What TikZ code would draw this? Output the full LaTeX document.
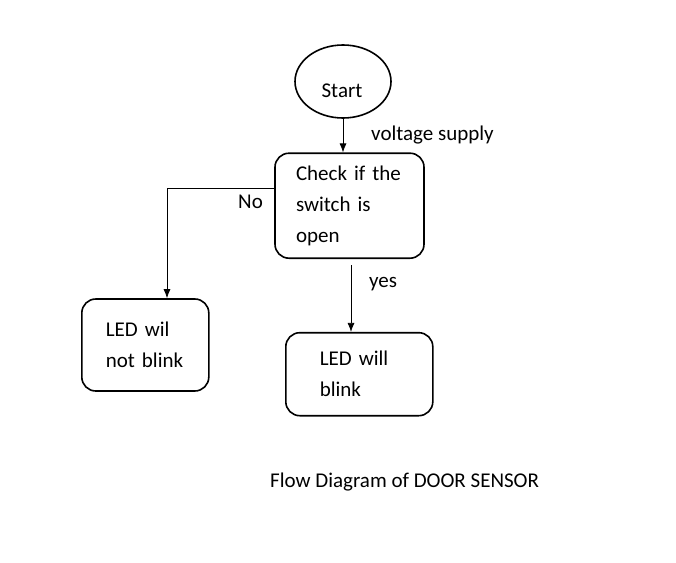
\documentclass[tikz,border=0pt]{standalone}
\usepackage{fontspec}
\setmainfont{Carlito}
\usetikzlibrary{arrows.meta,shapes.geometric}

\begin{document}
\begin{tikzpicture}[
      x=1pt, y=-1pt,
      every node/.style={font=\fontsize{21}{31}\selectfont},
      startnode/.style={
        ellipse, draw, line width=1.6pt,
        minimum width=96pt, minimum height=73pt, inner sep=0pt
      },
      procbox/.style={
        rectangle, rounded corners=14pt, draw, line width=1.6pt,
        align=left, inner ysep=0pt
      },
      lbl/.style={anchor=base west, inner sep=0pt},
      flow/.style={-{Latex[length=9pt,width=7pt]}, line width=0.8pt}
    ]
      \fill[white] (0,0) rectangle (676,562);
      \useasboundingbox (0,0) rectangle (676,562);

      \node[startnode] (start) at (343,81.5){};
      \node[lbl, anchor=base] (starttext) at (342,97){Start};
      \node[procbox, text width=107pt, inner xsep=21pt,
        minimum height=105pt] (check) at (349.5,205.7)
        {Check if the\\switch is\\open};
      \node[procbox, text width=79pt, inner xsep=24pt,
        minimum height=92pt] (ledno) at (145.3,345)
        {LED wil\\not blink};
      \node[procbox, text width=79pt, inner xsep=34pt,
        minimum height=83pt] (ledyes) at (359.3,374.2)
        {LED will\\blink};

      \coordinate (nobend) at (167,188);
      \coordinate (yesfrom) at (351,265);

      \draw[flow] (start.south) -- (start.south |- check.north);
      \draw[flow] (check.west |- nobend) -- (nobend) -- (nobend |- ledno.north);
      \draw[flow] (yesfrom) -- (yesfrom |- ledyes.north);

      \node[lbl] (supply) at (371,140){voltage supply};
      \node[lbl] (no) at (238,208){No};
      \node[lbl] (yes) at (369,287){yes};
      \node[lbl] (caption) at (270,487){Flow Diagram of DOOR SENSOR};
    \end{tikzpicture}
\end{document}
